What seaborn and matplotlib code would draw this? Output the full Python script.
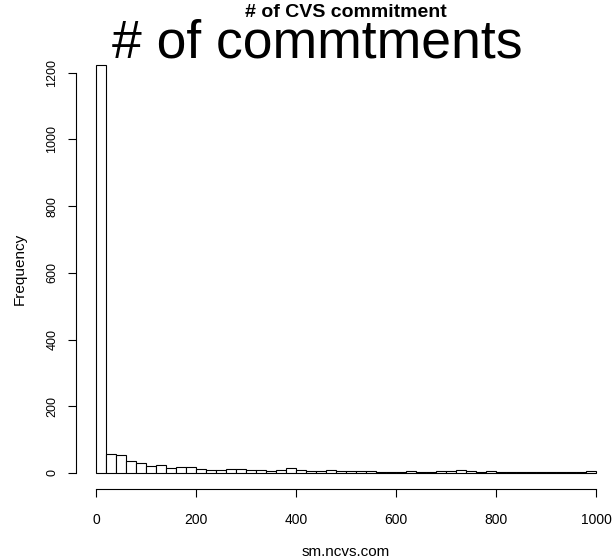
import numpy as np
import pandas as pd
import matplotlib
matplotlib.use("Agg")
import matplotlib.pyplot as plt
import seaborn as sns

# histogram of commits per account, bins of width 20
bin_edges = list(range(0, 1001, 20))
counts = [1222, 56, 53, 36, 29, 22, 25, 14, 18, 17,
          11, 10, 10, 12, 12, 8, 8, 7, 10, 14,
          10, 5, 5, 8, 6, 5, 6, 5, 4, 3,
          4, 6, 4, 4, 5, 5, 8, 5, 4, 5,
          4, 3, 3, 3, 4, 3, 2, 2, 3, 5]
x_ticks = [0, 200, 400, 600, 800, 1000]
y_ticks = [0, 200, 400, 600, 800, 1000, 1200]
title = "# of CVS commitment"
overlay = "# of commtments"
x_label = "sm.ncvs.com"
y_label = "Frequency"

df = pd.DataFrame({"commits": [e + 10 for e in bin_edges[:-1]], "n": counts})

sns.set_style("white")
plt.rcParams["font.family"] = ["Liberation Sans", "DejaVu Sans"]
# R-like: everything plain black
for key in ("text.color", "axes.labelcolor", "xtick.color", "ytick.color"):
    plt.rcParams[key] = "black"

fig = plt.figure(figsize=(6.12, 5.6), dpi=100)
ax = fig.add_axes([76 / 612, 1 - 489.3 / 560, 540 / 612, 440.3 / 560])

sns.histplot(data=df, x="commits", weights="n", bins=bin_edges, ax=ax,
             color="white", edgecolor="black", linewidth=0.8, alpha=1)

pad = 0.04 * max(counts)
ax.set_xlim(-40, 1040)
ax.set_ylim(-pad, max(counts) + pad)

ax.set_xticks(x_ticks)
ax.set_yticks(y_ticks)
ax.spines["top"].set_visible(False)
ax.spines["right"].set_visible(False)
ax.spines["left"].set_bounds(0, 1200)
ax.spines["bottom"].set_bounds(0, 1000)
for s in ("left", "bottom"):
    ax.spines[s].set_color("black")
    ax.spines[s].set_linewidth(0.8)

ax.tick_params(axis="both", direction="out", length=5.8, width=0.8,
               color="black", labelcolor="black", left=True, bottom=True)
ax.tick_params(axis="x", pad=11.5, labelsize=10)
ax.tick_params(axis="y", pad=7, labelsize=9, labelrotation=90)
for lab in ax.get_yticklabels():
    lab.set_va("center")

ax.set_xlabel(x_label, fontsize=11, va="center", ha="center", color="black")
ax.xaxis.set_label_coords(0.5, -0.142)
ax.set_ylabel(y_label, fontsize=11, va="center", ha="center", color="black")
ax.yaxis.set_label_coords(-0.104, 0.5)

ax.set_title(title, fontsize=14, fontweight="bold", y=1.0545, va="baseline",
             color="black")
fig.text(112 / 612, 1 - 58 / 560, overlay, fontsize=38.5, ha="left",
         va="baseline", color="black")

fig.savefig("out.png", dpi=100)
